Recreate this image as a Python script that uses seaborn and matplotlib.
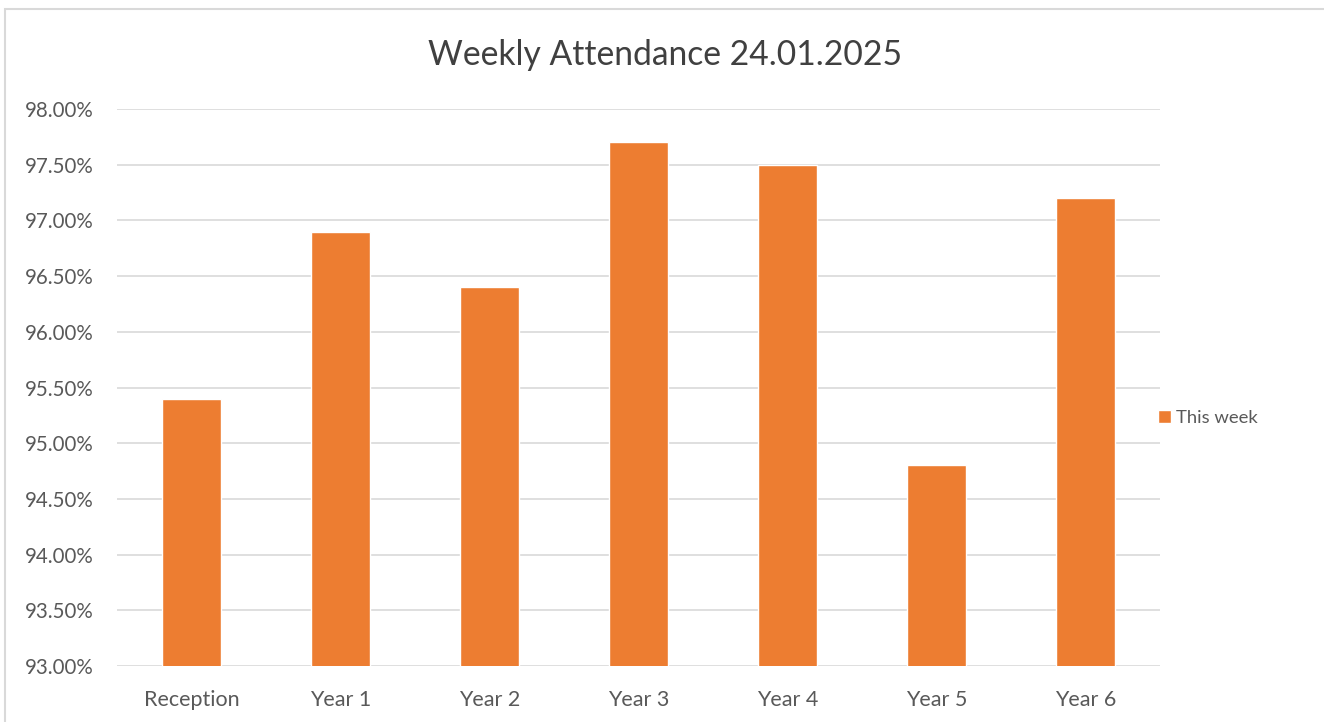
import matplotlib
matplotlib.use("Agg")
import matplotlib.pyplot as plt
import seaborn as sns
from matplotlib.patches import Rectangle
from matplotlib.ticker import FuncFormatter, MultipleLocator

# data
categories = ["Reception", "Year 1", "Year 2", "Year 3", "Year 4", "Year 5", "Year 6"]
this_week = [95.40, 96.90, 96.40, 97.70, 97.50, 94.80, 97.20]
series_name = "This week"

BAR_COLOR = "#ED7D31"
TEXT_COLOR = "#595959"
GRID_COLOR = "#D9D9D9"

sns.set_theme(style="white")
plt.rcParams["font.family"] = ["Lato", "DejaVu Sans"]

fig = plt.figure(figsize=(13.24, 7.22), dpi=100)
ax = fig.add_axes([117 / 1324, 56 / 722, (1160 - 117) / 1324, (666 - 109) / 722])

sns.barplot(x=categories, y=this_week, color=BAR_COLOR, width=0.4,
            saturation=1, label=series_name, ax=ax, zorder=3)

ax.set_ylim(93, 98)
ax.yaxis.set_major_locator(MultipleLocator(0.5))
ax.yaxis.set_major_formatter(FuncFormatter(lambda v, _: f"{v:.2f}%"))
ax.grid(axis="y", color=GRID_COLOR, linewidth=1.2, zorder=0)
ax.set_axisbelow(True)
for s in ax.spines.values():
    s.set_visible(False)
ax.tick_params(axis="both", length=0, colors=TEXT_COLOR)
ax.tick_params(axis="y", labelsize=14.8, pad=17)
ax.tick_params(axis="x", labelsize=15.5, pad=17)
ax.set_xlabel("")
ax.set_ylabel("")

fig.text(0.502, 1 - 55 / 722, "Weekly Attendance 24.01.2025", fontsize=24.2,
         color="#404040", ha="center", va="center")

ax.legend(loc="center left", bbox_to_anchor=(0.982, 0.445), frameon=False,
          fontsize=13.3, handlelength=0.7, handleheight=0.7, handletextpad=0.3,
          labelcolor=TEXT_COLOR)

# light outline of the chart area, as in the reference
fig.patches.append(Rectangle((5 / 1324, -0.05), 1.1, (722 - 9) / 722 + 0.05,
                             transform=fig.transFigure, fill=False,
                             edgecolor=GRID_COLOR, linewidth=1.5))

fig.savefig("out.png", dpi=100)
